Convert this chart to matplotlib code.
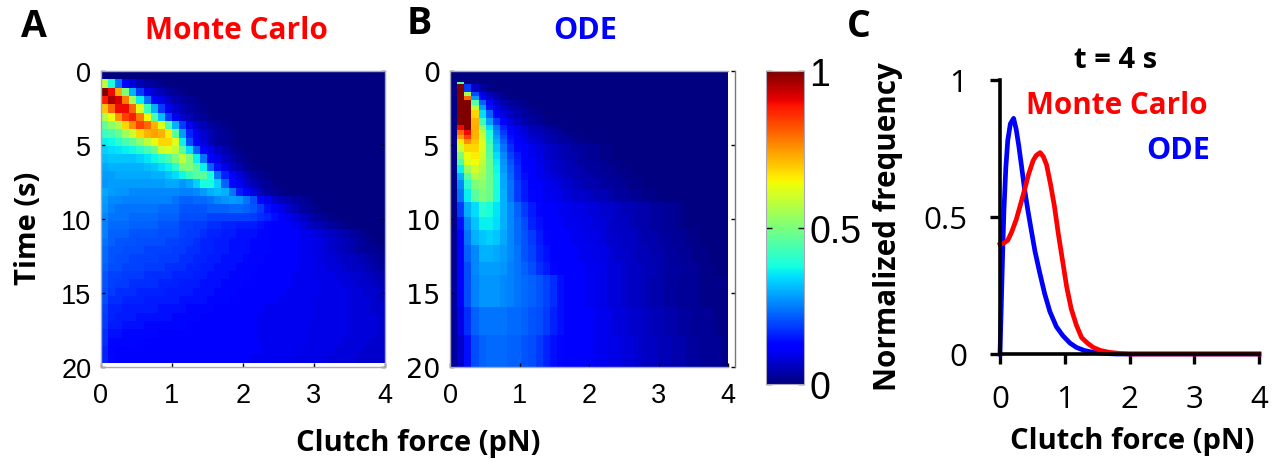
import numpy as np
import matplotlib
matplotlib.use("Agg")
import matplotlib.pyplot as plt

W, H = 1287, 464
sans = "Liberation Sans"
bold = "Open Sans"

# panel A, percent of max, rows from t=0 down, right tail is zero where cut short
mc_rows = [
    [1],
    [58,38,24,12,8,5,3,2,1],
    [100,90,73,50,30,18,10,7,5,3,2,1],
    [88,96,92,78,55,36,24,12,9,6,4,3,2,1],
    [70,80,90,90,80,62,42,30,18,10,7,5,3,2,1],
    [56,64,75,84,88,78,64,44,31,18,10,7,5,3,2,1],
    [47,52,56,68,76,84,80,72,62,44,30,18,10,7,5,3,2,1],
    [42,44,47,54,60,68,72,74,72,66,46,28,16,10,7,5,3,2,1],
    [36,37,40,44,47,52,58,63,68,68,62,36,20,11,8,5,3,2,1],
    [33,34,35,36,37,40,44,48,60,62,58,46,34,22,12,9,6,4,2,1],
    [31,32,32,32,32,33,35,37,40,44,50,58,50,36,24,12,9,6,4,2,1],
    [29,30,30,30,30,30,31,32,34,36,40,50,50,46,36,22,14,9,6,4,2,1],
    [28,28,29,29,29,29,29,30,30,32,34,37,42,46,46,38,24,16,11,8,5,3,2,1],
    [27,28,28,28,28,28,28,28,28,29,29,27,29,33,38,38,33,22,13,10,7,5,3,2,1],
    [29,28,27,27,26,26,26,26,26,26,26,25,25,26,28,30,31,30,24,15,11,8,5,3,2,1],
    [28,26,26,25,25,25,25,25,25,25,24,22,22,23,23,24,26,27,28,27,24,20,13,10,7,5,4,3,2,1],
    [27,25,24,24,24,24,24,24,23,23,23,21,21,21,21,22,22,22,23,23,22,21,18,14,11,9,7,5,3,2,1],
    [26,24,24,24,23,23,23,23,22,22,22,20,20,20,20,19,19,19,19,19,19,18,17,16,14,12,10,8,6,4,3,2,1],
    [25,23,23,23,22,22,22,22,21,21,21,19,19,18,18,17,17,16,16,15,15,15,14,13,12,11,11,10,8,6,5,4,3,2,1],
    [25,22,22,22,21,21,21,21,20,20,20,19,18,18,17,16,16,15,15,14,14,14,13,13,12,12,11,11,10,9,8,7,6,5,4,3,2,1],
    [24,22,21,21,21,20,20,20,20,19,19,18,18,17,16,16,15,15,14,14,14,13,13,13,12,12,11,11,10,10,9,8,7,6,5,4,3,2,1],
    [23,21,21,20,20,20,19,19,19,19,18,18,17,17,16,16,15,15,14,14,14,13,13,13,12,12,11,11,10,9,9,8,7,6,5,4,3,2,2,1],
    [23,21,20,20,19,19,19,19,18,18,18,17,17,16,16,15,15,14,14,14,13,13,13,12,12,12,11,11,10,10,9,8,8,7,6,6,5,4,3,2],
    [22,20,20,19,19,19,18,18,18,17,17,17,16,16,15,15,14,14,14,13,13,13,12,12,12,11,11,11,10,10,9,9,8,8,7,6,6,5,4,3],
    [21,19,19,18,18,18,17,17,17,17,16,16,16,15,15,14,14,14,13,13,13,12,12,12,11,11,11,10,10,10,9,9,9,8,8,7,7,6,5,4],
    [21,19,18,18,17,17,17,17,16,16,16,15,15,15,14,14,14,13,13,13,12,12,12,11,11,11,11,10,10,10,10,9,9,9,8,8,7,7,6,5],
    [20,18,17,17,17,16,16,16,16,15,15,15,15,14,14,14,13,13,13,12,12,12,11,11,11,11,10,10,10,10,10,9,9,9,9,8,8,7,7,6],
    [20,17,17,16,16,16,15,15,15,15,15,14,14,14,14,13,13,13,12,12,12,11,11,11,11,10,10,10,10,10,9,9,9,9,9,8,8,8,7,6],
    [19,16,16,15,15,15,15,15,14,14,14,14,13,13,13,13,12,12,12,12,11,11,11,10,10,10,10,10,10,10,9,9,9,9,9,8,8,8,7,7],
    [18,16,15,15,15,14,14,14,14,14,13,13,13,13,12,12,12,12,12,11,11,11,10,10,10,10,10,10,10,10,9,9,9,9,9,8,8,8,8,7],
    [18,15,15,14,14,14,13,13,13,13,13,13,12,12,12,12,12,11,11,11,11,11,10,10,10,10,10,10,10,9,9,9,9,9,9,8,8,8,8,7],
    [17,14,14,13,13,13,13,13,12,12,12,12,12,12,11,11,11,11,11,11,11,11,10,10,10,10,10,10,10,9,9,9,9,9,9,8,8,8,8,7],
    [17,13,13,13,13,12,12,12,12,12,12,12,11,11,11,11,11,11,11,11,11,11,10,10,10,10,10,10,10,9,9,9,9,9,8,8,8,8,7,7],
    [16,13,12,12,12,12,11,12,12,12,11,11,11,11,11,11,11,11,11,11,11,11,11,10,10,10,10,10,9,9,9,9,9,8,8,8,8,7,7,7],
    [16,13,12,12,11,11,11,12,11,12,11,11,11,11,11,11,11,11,11,11,11,10,10,10,10,10,10,9,9,9,9,9,8,8,8,8,7,7,7,7],
]

# panel B has uneven rows, edges in seconds
ode_time_edges = [0,.74,.90,1.42,1.69,1.98,2.32,2.66,3.15,3.63,3.96,4.30,4.57,4.91,5.47,5.92,
                  6.37,6.87,7.39,7.95,8.85,9.86,10.77,11.78,12.90,13.81,15.95,17.86,20]
ode_rows = [
    [0],
    [1,45,1],
    [1,100,18,6,3,1],
    [1,100,55,20,9,5,3,1],
    [1,100,80,28,12,7,4,2,1],
    [1,100,100,45,22,11,7,4,3,2,1],
    [1,100,100,58,28,14,9,6,4,3,2,1],
    [1,100,100,68,34,22,12,8,6,4,3,2,1],
    [1,100,100,72,42,28,18,11,8,6,4,3,2,1],
    [1,90,100,73,52,34,24,16,11,9,7,5,4,3,2,1],
    [1,80,90,72,58,38,26,18,13,10,8,6,5,4,3,2,1,1],
    [1,74,84,72,60,40,28,20,14,11,9,7,6,5,4,3,2,1,1],
    [1,66,76,70,62,42,30,22,15,12,10,8,7,5,4,3,3,2,1,1],
    [1,60,68,68,62,44,32,24,17,13,11,10,8,7,6,5,4,3,3,2,2,1,1],
    [1,50,64,66,60,46,34,26,19,15,12,10,9,7,6,5,4,4,3,2,2,1,1],
    [1,44,62,64,58,48,36,27,21,16,12,11,9,8,7,6,5,4,3,3,2,2,1,1],
    [1,36,54,60,56,48,37,28,22,17,13,11,10,8,7,6,5,5,4,3,3,2,2,1,1],
    [1,30,46,56,54,48,38,29,23,17,14,12,10,9,8,7,6,5,4,4,3,3,2,2,1,1],
    [1,26,40,50,52,48,38,29,24,18,15,12,11,10,9,8,7,6,5,4,4,3,3,2,2,1,1],
    [1,24,36,46,50,48,38,30,24,18,15,13,11,10,10,9,8,7,7,6,5,5,4,3,3,2,2,1,1],
    [1,18,30,34,40,38,35,30,26,22,18,15,13,11,11,10,10,9,9,8,8,7,7,6,5,5,4,4,3,3,2,2,1],
    [1,14,26,32,36,36,34,30,26,23,20,16,14,12,11,11,10,10,9,9,8,8,7,6,6,5,4,4,3,3,2,2,1],
    [2,12,24,30,32,33,32,29,26,23,21,18,15,13,12,11,11,10,10,9,9,8,7,7,6,6,5,4,4,3,3,2,2,1,1],
    [2,12,22,26,30,30,29,28,26,24,21,19,16,14,12,11,11,11,10,10,9,9,8,7,7,6,5,5,4,4,3,3,2,2,1,1],
    [2,11,20,26,28,28,28,27,25,24,22,20,17,15,13,12,11,11,11,10,10,9,8,8,7,6,6,5,5,4,3,3,3,2,2,1,1],
    [3,11,20,25,27,27,27,26,25,24,23,22,21,19,17,14,12,11,11,10,10,9,8,8,7,6,6,5,4,4,3,3,2,2,2,1,1,1,1],
    [3,9,17,22,24,24,24,24,23,23,22,21,20,18,16,14,12,11,11,11,10,10,9,8,8,7,7,6,5,5,4,4,3,3,2,2,2,1,1],
    [3,7,14,20,22,23,23,23,22,22,21,20,18,16,14,13,12,11,11,11,10,10,9,9,8,8,7,6,6,5,5,4,4,3,3,2,2,2,1],
]

# panel C curves at t = 4 s
ode_force = [0,.02,.04,.06,.09,.12,.16,.21,.25,.29,.33,.38,.43,.48,.54,.61,.69,.77,.87,.97,1.08,1.18,1.3,1.44,1.6,1.8,2.3,4]
ode_freq = [0,.18,.36,.52,.68,.78,.84,.86,.82,.76,.69,.60,.525,.456,.375,.30,.22,.155,.10,.067,.04,.024,.013,.006,.002,0,0,0]
mc_force = [0,.06,.12,.18,.25,.31,.38,.44,.51,.56,.62,.67,.72,.78,.84,.90,.97,1.03,1.1,1.18,1.26,1.35,1.44,1.55,1.69,1.85,2,2.5,4]
mc_freq = [.40,.405,.415,.445,.49,.54,.60,.655,.705,.725,.735,.72,.69,.62,.54,.44,.335,.245,.165,.105,.06,.04,.024,.013,.006,.002,0,0,0]


def to_grid(rows, ncols):
    grid = np.zeros((len(rows), ncols))
    for i, r in enumerate(rows):
        grid[i, :len(r)] = r
    return grid / 100


def px_axes(x0, y0, x1, y1):
    return fig.add_axes([x0 / W, 1 - y1 / H, (x1 - x0) / W, (y1 - y0) / H])


def style_map(ax):
    ax.set_xlim(0, 4)
    ax.set_ylim(20, 0)
    ax.set_xticks(range(5))
    ax.set_yticks([0, 5, 10, 15, 20])
    for s in ax.spines.values():
        s.set_color("#a8a8b8")
        s.set_linewidth(1)
    ax.tick_params(axis="both", labelsize=19.5, length=3, width=1, direction="in", colors="black")
    ax.tick_params(axis="x", pad=11)
    ax.tick_params(axis="y", pad=7)
    for lab in ax.get_xticklabels() + ax.get_yticklabels():
        lab.set_family(sans)


fig = plt.figure(figsize=(W / 100, H / 100), dpi=100)

# A
axa = px_axes(101, 72, 384.5, 368)
mc = to_grid(mc_rows, 40)
mesh = axa.pcolormesh(np.linspace(0, 4, 41), np.linspace(0, 19.7, 36), mc, cmap="jet", vmin=0, vmax=1)
style_map(axa)
axa.tick_params(right=True, top=False)

# B
axb = px_axes(450, 72, 728, 368)
ode = to_grid(ode_rows, 39)
axb.pcolormesh(np.linspace(0, 4, 40), ode_time_edges, ode, cmap="jet", vmin=0, vmax=1)
style_map(axb)
axb.spines["right"].set_position(("outward", 5))
axb.spines["right"].set_linestyle((0, (4, 1)))
axb.spines["right"].set_color("#777777")
axb.tick_params(axis="y", right=True, length=3)

# colorbar
cax = px_axes(766, 72, 804, 385)
cb = fig.colorbar(mesh, cax=cax, ticks=[0, .5, 1])
cb.ax.set_yticklabels(["0", "0.5", "1"], family=sans, fontsize=27)
cb.ax.tick_params(length=4, width=1, direction="in", left=True, right=True, pad=4)
cb.outline.set_edgecolor("#a8a8b8")

# C
axc = px_axes(1000, 81, 1259, 355)
axc.plot(ode_force, ode_freq, color="#0000ff", lw=3.4, clip_on=False, solid_joinstyle="round")
axc.plot(mc_force, mc_freq, color="#ff0000", lw=3.4, clip_on=False, solid_joinstyle="round")
axc.set_xlim(0, 4)
axc.set_ylim(0, 1)
axc.set_xticks(range(5))
axc.set_yticks([0, .5, 1])
axc.set_yticklabels(["0", "0.5", "1"])
axc.spines["top"].set_visible(False)
axc.spines["right"].set_visible(False)
axc.spines["left"].set_linewidth(2.6)
axc.spines["bottom"].set_linewidth(2.6)
axc.tick_params(axis="both", length=7.5, width=2.4, labelsize=22.5)
axc.tick_params(axis="x", pad=14)
axc.tick_params(axis="y", pad=16)
for lab in axc.get_xticklabels() + axc.get_yticklabels():
    lab.set_family("Open Sans")


def label(x, y, s, size, color="black", weight="bold", rot=0, fam=bold):
    fig.text(x / W, 1 - y / H, s, fontsize=size, color=color, fontweight=weight, rotation=rot,
             family=fam, ha="center", va="center")


label(34, 27, "A", 27)
label(419, 24, "B", 27)
label(859, 27, "C", 27)
label(236, 31, "Monte Carlo", 21.5, color="#ff0000")
label(585, 31, "ODE", 22, color="#0000ff")
label(1116, 61, "t = 4 s", 21)
label(1117, 106, "Monte Carlo", 21.3, color="#ff0000")
label(1178, 151, "ODE", 22, color="#0000ff")
label(418, 444, "Clutch force (pN)", 21)
label(1132, 442, "Clutch force (pN)", 21)
label(28, 228, "Time (s)", 21, rot=90)
label(888, 227, "Normalized frequency", 21.3, rot=90)

plt.savefig("out.png", dpi=100)
